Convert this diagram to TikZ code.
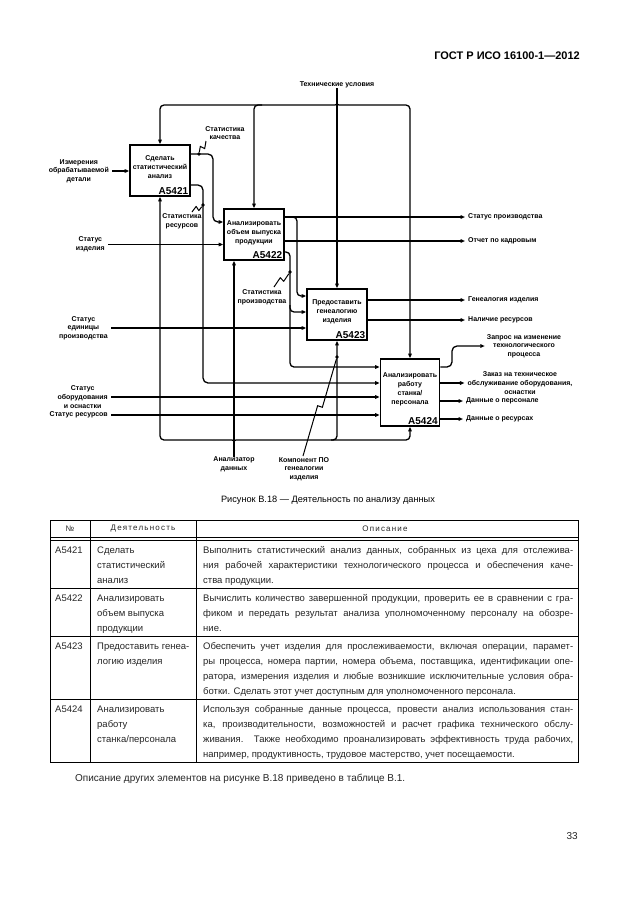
\documentclass[tikz,border=0pt]{standalone}
\usepackage{fontspec}
\setmainfont{Liberation Sans}
\usetikzlibrary{arrows.meta,calc}
\newcommand\jline[1]{\makebox[370pt][s]{#1}}
\newcommand\sqg[2]{\draw[ln,line width=1pt] (#1) -- ($(#1)!0.5!(#2)!2.5pt!90:(#2)$) -- ($(#1)!0.5!(#2)!2.5pt!-90:(#2)$) -- (#2);}
\tikzset{
 ln/.style={line width=1.3pt, line join=round},
 arr/.style={ln, -{Triangle[length=4.5pt,width=3.6pt]}},
 box/.style={draw, line width=1.7pt, minimum width=60pt, minimum height=51pt, inner sep=0pt},
 lbl/.style={font=\fontsize{7}{8.7}\selectfont\bfseries, align=center, inner sep=0pt},
 btxt/.style={font=\fontsize{7}{9}\selectfont\bfseries, align=center, inner sep=0pt},
 bid/.style={font=\fontsize{10}{12}\selectfont\bfseries, inner sep=0pt},
 jdot/.style={circle, fill, inner sep=0pt, minimum size=3.8pt},
 tl/.style={line width=0.8pt},
 cell/.style={font=\fontsize{9.5}{15}\selectfont, align=left, inner sep=0pt, anchor=north west, text=black!85},
 cid/.style={font=\fontsize{9.5}{15}\selectfont, inner sep=0pt, anchor=base west, text=black!85},
 hd/.style={font=\fontsize{8}{10}\selectfont\addfontfeatures{LetterSpace=15}, inner sep=0pt, text=black!85},
}
\begin{document}
\begin{tikzpicture}[x=1pt,y=-1pt]
\fill[white] (0,0) rectangle (630,913);
\useasboundingbox (0,0) rectangle (630,913);

% page header
\node[anchor=base east, font=\fontsize{11}{13}\selectfont\bfseries, inner sep=0pt] (hdr) at (580,59) {ГОСТ Р ИСО 16100-1—2012};

% boxes
\node[box] (b1) at (160,170.5) {};
\node[box] (b2) at (254,234.5) {};
\node[box] (b3) at (337,314.5) {};
\node[box, minimum width=59pt, minimum height=67pt] (b4) at (410,392.5) {};
\node[btxt] (b1t) at ([yshift=3pt]b1.center) {Сделать\\статистический\\анализ};
\node[btxt] (b2t) at ([yshift=2pt]b2.center) {Анализировать\\объем выпуска\\продукции};
\node[btxt] (b3t) at ([yshift=3pt]b3.center) {Предоставить\\генеалогию\\изделия};
\node[btxt] (b4t) at ([yshift=3pt]b4.center) {Анализировать\\работу\\станка/\\персонала};
\node[bid, anchor=base east, xshift=-2.5pt, yshift=2.8pt] (b1i) at (b1.south east) {A5421};
\node[bid, anchor=base east, xshift=-2.5pt, yshift=2.8pt] (b2i) at (b2.south east) {A5422};
\node[bid, anchor=base east, xshift=-2.5pt, yshift=2.8pt] (b3i) at (b3.south east) {A5423};
\node[bid, anchor=base east, xshift=-2.5pt, yshift=2.8pt] (b4i) at (b4.south east) {A5424};

% controls
\node[lbl] (tu) at (337,85) {Технические условия};
\draw[arr] (tu.south) -- (b3.north);
\coordinate (tj) at (337,99);
\draw[arr, rounded corners=4pt] (tj) .. controls (337,105) .. (331,105) -| (b1.north);
\draw[arr, rounded corners=4pt] (tj) .. controls (337,105) .. (343,105) -| (b4.north);
\draw[arr, rounded corners=4pt] (262,105) -| (b2.north);

% inputs
\node[lbl, anchor=east] (i1) at (109,171) {Измерения\\обрабатываемой\\детали};
\draw[arr] ([xshift=3pt]i1.east) -- (i1.east -| b1.west);
\node[lbl, anchor=east] (i2) at (105,244.5) {Статус\\изделия};
\draw[arr] ([xshift=3pt]i2.east) -- (i2.east -| b2.west);
\node[lbl, anchor=east] (i3) at (108,328) {Статус\\единицы\\производства};
\draw[arr] ([xshift=3pt]i3.east) -- (i3.east -| b3.west);
\node[lbl, anchor=east] (i4) at (108,397) {Статус\\оборудования\\и оснастки};
\draw[arr] ([xshift=3pt]i4.east) -- (i4.east -| b4.west);
\node[lbl, anchor=east] (i5) at (108,415) {Статус ресурсов};
\draw[arr] ([xshift=3pt]i5.east) -- (i5.east -| b4.west);

% outputs
\node[lbl, anchor=west] (o1) at (468,217) {Статус производства};
\draw[arr] (o1.west -| b2.east) -- ([xshift=-3pt]o1.west);
\node[lbl, anchor=west] (o2) at (468,241) {Отчет по кадровым};
\draw[arr] (o2.west -| b2.east) -- ([xshift=-3pt]o2.west);
\node[lbl, anchor=west] (o3) at (468,300) {Генеалогия изделия};
\draw[arr] (o3.west -| b3.east) -- ([xshift=-3pt]o3.west);
\node[lbl, anchor=west] (o4) at (468,320) {Наличие ресурсов};
\draw[arr] (o4.west -| b3.east) -- ([xshift=-3pt]o4.west);
\node[lbl] (o5) at (524,346) {Запрос на изменение\\технологического\\процесса};
\draw[arr, rounded corners=5pt] (b4.east |- 0,367) -- (452,367) -- (452,346) -- ([xshift=-2pt]o5.west);
\node[lbl] (o6) at (520,383) {Заказ на техническое\\обслуживание оборудования,\\оснастки};
\draw[arr] (b4.east |- o6.west) -- ([xshift=-3pt]o6.west);
\node[lbl, anchor=west] (o7) at (466,401) {Данные о персонале};
\draw[arr] (o7.west -| b4.east) -- ([xshift=-3pt]o7.west);
\node[lbl, anchor=west] (o8) at (466,419) {Данные о ресурсах};
\draw[arr] (o8.west -| b4.east) -- ([xshift=-3pt]o8.west);

% internal: quality statistics
\draw[arr, rounded corners=5pt] (b1.east |- 0,154) -| (213,222) -- (b2.west |- 0,222);
\node[jdot] (dq) at (199,154) {};
\node[lbl] (q) at (225,133) {Статистика\\качества};
\coordinate (qa) at (206,141);
\sqg{qa}{dq}

% internal: resource statistics
\draw[arr, rounded corners=5pt] (b1.east |- 0,185) -| (203,383) -- (b4.west |- 0,383);
\node[jdot] (dr) at (203,205) {};
\node[lbl] (r) at (182,221.5) {Статистика\\ресурсов};
\coordinate (ra) at (192,212);
\sqg{ra}{dr}

% internal: production status branch
\draw[arr, rounded corners=4pt] (292,217) -| (297,296) -- (b3.west |- 0,296);
% internal: production statistics
\draw[arr, rounded corners=4pt] (b2.east |- 0,252) -| (290,367) -- (b4.west |- 0,367);
\draw[arr, rounded corners=4pt] (290,305) |- (b3.west |- 0,312);
\node[jdot] (ds) at (290,272) {};
\node[lbl] (s) at (262,297) {Статистика\\производства};
\coordinate (sa) at (274,287);
\sqg{sa}{ds}

% mechanisms
\node[lbl] (m1) at (234,464.5) {Анализатор\\данных};
\coordinate (mj) at (234,446);
\draw[arr] (m1.north) -- (m1.north |- b2.south);
\draw[arr, rounded corners=4pt] (mj) .. controls (234,440) .. (228,440) -| (b1.south);
\draw[arr, rounded corners=4pt] (mj) .. controls (234,440) .. (240,440) -| (b4.south);
\draw[arr, rounded corners=4pt] (331,440) -| (b3.south);
\node[lbl] (m2) at (304,469) {Компонент ПО\\генеалогии\\изделия};
\node[jdot] (dm) at (337,357) {};
\coordinate (ma) at (303,456);
\sqg{ma}{dm}

% caption
\node[font=\fontsize{9.2}{11}\selectfont, inner sep=0pt] (cap) at (328,500) {Рисунок В.18 — Деятельность по анализу данных};

% table grid
\draw[tl] (50,520) rectangle (578,762);
\draw[tl] (50,537) -- (578,537);
\draw[tl] (50,540) -- (578,540);
\draw[tl] (50,588) -- (578,588);
\draw[tl] (50,636) -- (578,636);
\draw[tl] (50,699) -- (578,699);
\draw[tl] (90,520) -- (90,762);
\draw[tl] (196,520) -- (196,762);

% table header
\node[hd] (h1) at (70,529) {№};
\node[hd] (h2) at (143,529) {Деятельность};
\node[hd] (h3) at (385,529) {Описание};

% row 1
\node[cid] (c11) at (55,553) {A5421};
\node[cell] (c12) at (97,542.5) {\strut Сделать\\статистический\\анализ};
\node[cell] (c13) at (203,542.5) {\strut\jline{Выполнить статистический анализ данных, собранных из цеха для отслежива-}\\
\jline{ния рабочей характеристики технологического процесса и обеспечения каче-}\\
ства продукции.};
% row 2
\node[cid] (c21) at (55,601) {A5422};
\node[cell] (c22) at (97,590.5) {\strut Анализировать\\объем выпуска\\продукции};
\node[cell] (c23) at (203,590.5) {\strut\jline{Вычислить количество завершенной продукции, проверить ее в сравнении с гра-}\\
\jline{фиком и передать результат анализа уполномоченному персоналу на обозре-}\\
ние.};
% row 3
\node[cid] (c31) at (55,649) {A5423};
\node[cell] (c32) at (97,638.5) {\strut Предоставить генеа-\\логию изделия};
\node[cell] (c33) at (203,638.5) {\strut\jline{Обеспечить учет изделия для прослеживаемости, включая операции, парамет-}\\
\jline{ры процесса, номера партии, номера объема, поставщика, идентификации опе-}\\
\jline{ратора, измерения изделия и любые возникшие исключительные условия обра-}\\
ботки. Сделать этот учет доступным для уполномоченного персонала.};
% row 4
\node[cid] (c41) at (55,712) {A5424};
\node[cell] (c42) at (97,701.5) {\strut Анализировать\\работу\\станка/персонала};
\node[cell] (c43) at (203,701.5) {\strut\jline{Используя собранные данные процесса, провести анализ использования стан-}\\
\jline{ка, производительности, возможностей и расчет графика технического обслу-}\\
\jline{живания. Также необходимо проанализировать эффективность труда рабочих,}\\
например, продуктивность, трудовое мастерство, учет посещаемости.};

% note and page number
\node[anchor=west, font=\fontsize{10}{12}\selectfont, inner sep=0pt, text=black!85] (note) at (75,779) {Описание других элементов на рисунке В.18 приведено в таблице В.1.};
\node[anchor=east, font=\fontsize{10}{12}\selectfont, inner sep=0pt, text=black!85] (pg) at (578,836) {33};
\end{tikzpicture}
\end{document}
